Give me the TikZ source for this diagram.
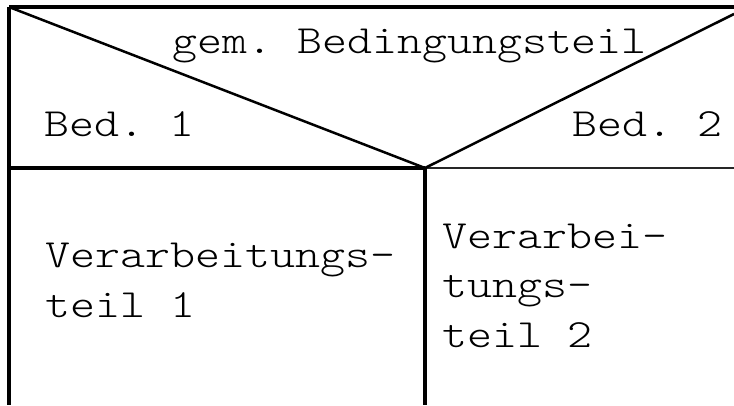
\documentclass[tikz,border=0pt]{standalone}
\usepackage{fontspec}
\setmonofont{Latin Modern Mono Light}[FakeStretch=1.19]

\tikzset{
  rand/.style={line width=4pt},
  trenn/.style={line width=2.5pt},
  txt/.style={font=\ttfamily\fontsize{40}{49.5}\selectfont,inner sep=0pt,anchor=base west,align=left}
}

\begin{document}
\begin{tikzpicture}[x=1pt,y=-1pt]
  \useasboundingbox (0,0) rectangle (734,405);
  % Eckpunkte des Strukturblocks
  \coordinate (ol) at (9,7);
  \coordinate (or) at (734,7);
  \coordinate (ml) at (9,168);
  \coordinate (mr) at (734,168);
  \coordinate (rd) at (734,14);
  \coordinate (ga) at (425,168);
  \coordinate (gu) at (425,405);
  \coordinate (ul) at (9,405);
  % Rahmen
  \draw[rand] (ol) -- (or);
  \draw[rand] (ol) -- (ul);
  \draw[rand] (ml) -- (ga);
  \draw[line width=2.5pt,black!85] (ga) -- (mr);
  \draw[line width=4.5pt] (ga) -- (gu);
  % Bedingungsdreieck
  \draw[trenn] (ol) -- (ga) -- (rd);
  % Texte (Anker: Grundlinie der letzten Zeile)
  \node[txt] (bed) at (172,53) {gem. Bedingungsteil};
  \node[txt] (b1) at (44,136) {Bed. 1};
  \node[txt] (b2) at (572,136) {Bed. 2};
  \node[txt] (v1) at (45,317) {Verarbeitungs-\\teil 1};
  \node[txt] (v2) at (442,347) {Verarbei-\\tungs-\\teil 2};
\end{tikzpicture}
\end{document}
